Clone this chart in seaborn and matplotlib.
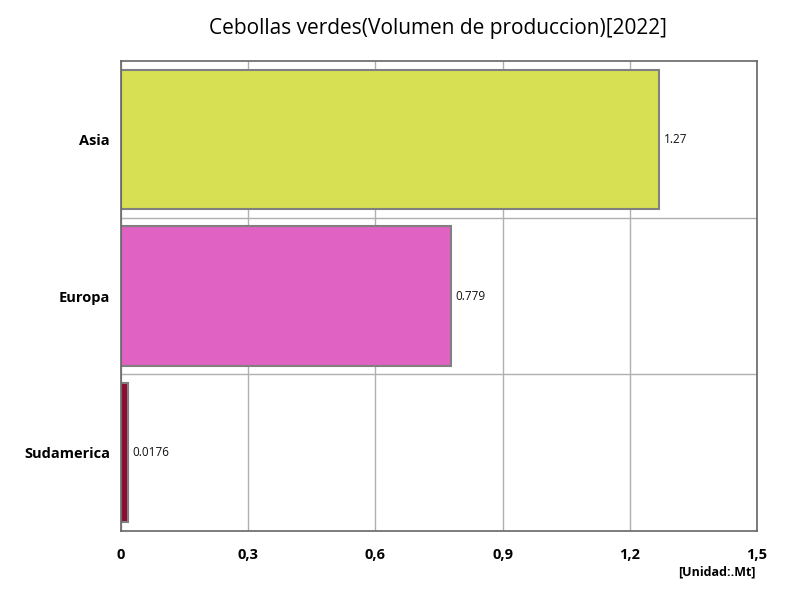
import matplotlib
matplotlib.use("Agg")
import matplotlib.pyplot as plt
import seaborn as sns
import pandas as pd
from matplotlib.ticker import FixedLocator, FuncFormatter

regions = ["Asia", "Europa", "Sudamerica"]
values = [1.27, 0.779, 0.0176]
labels = ["1.27", "0.779", "0.0176"]
colors = ["#d6e052", "#e062c2", "#8e0c32"]

df = pd.DataFrame({"region": regions, "value": values})

sns.set_style("white")
plt.rcParams["font.family"] = ["Open Sans", "DejaVu Sans"]
plt.rcParams["text.color"] = "black"
plt.rcParams["xtick.color"] = "black"
plt.rcParams["ytick.color"] = "black"

fig = plt.figure(figsize=(8, 6), dpi=100)
ax = fig.add_axes([0.15125, 0.115, 0.795, 0.7833])

sns.barplot(data=df, x="value", y="region", hue="region", palette=colors,
            legend=False, orient="h", width=0.89, saturation=1,
            edgecolor="#808080", linewidth=1.5, ax=ax)

for i, (v, t) in enumerate(zip(values, labels)):
    ax.text(v + 0.01, i, t, va="center", ha="left", fontsize=8.5, color="#111111")

ax.set_xlim(0, 1.5)
ax.set_ylim(2.5, -0.5)
ax.set_xticks([0, 0.3, 0.6, 0.9, 1.2, 1.5])
ax.xaxis.set_major_formatter(FuncFormatter(lambda x, p: "0" if x == 0 else f"{x:.1f}".replace(".", ",")))
ax.yaxis.set_minor_locator(FixedLocator([0.5, 1.5]))
ax.grid(axis="x", which="major", color="#b0b0b0", linewidth=1)
ax.grid(axis="y", which="minor", color="#b0b0b0", linewidth=1)
ax.set_axisbelow(True)
ax.tick_params(axis="y", which="both", length=0, pad=8)
ax.tick_params(axis="x", which="both", length=0, pad=12)
for lab in ax.get_xticklabels() + ax.get_yticklabels():
    lab.set_fontweight("bold")
    lab.set_fontsize(10.5)
ax.set_xlabel("")
ax.set_ylabel("")
for s in ax.spines.values():
    s.set_color("#666666")
    s.set_linewidth(1.2)

fig.text(0.548, 0.953, "Cebollas verdes(Volumen de produccion)[2022]", ha="center", va="center", fontsize=15)
fig.text(0.945, 0.047, "[Unidad:.Mt]", ha="right", va="center", fontsize=9, fontweight="bold")

fig.savefig("out.png", dpi=100)
